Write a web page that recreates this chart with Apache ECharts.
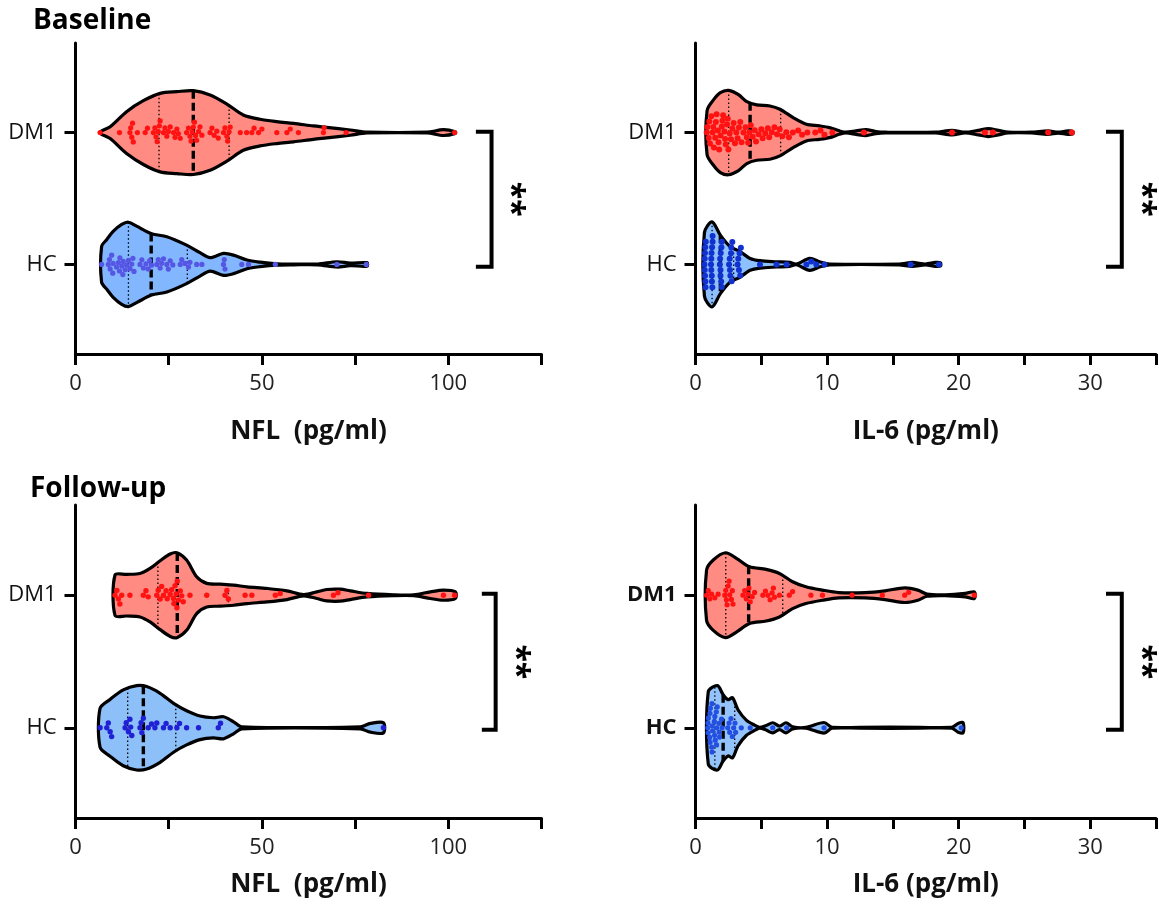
<!DOCTYPE html>
<html>
<head>
<meta charset="utf-8">
<script src="https://cdn.jsdelivr.net/npm/echarts@6/dist/echarts.min.js"></script>
<style>
  html, body { margin: 0; padding: 0; background: #fff; }
  #main { width: 1159px; height: 905px; }
</style>
</head>
<body>
<div id="main"></div>
<script>
var FONT = '"Open Sans", "Noto Sans", sans-serif';

// categories (y = 1 for HC, y = 2 for DM1)
var groups = ['HC', 'DM1'];
var nflTicks = [0, 50, 100];
var il6Ticks = [0, 10, 20, 30];

var nflBaseDM1 = [6.6, 11.8, 14.6, 14.8, 15.1, 15.3, 15.5, 16.6, 18.7, 19.3, 20.9, 21.3, 21.6, 21.9, 22.2, 22.5, 22.7,
  23.6, 24.0, 24.5, 24.9, 25.4, 26.3, 26.7, 27.2, 27.6, 28.1, 29.8, 30.3, 30.7, 31.0, 31.3, 31.6, 31.9, 32.2, 32.5,
  33.0, 33.4, 33.9, 36.1, 36.6, 37.2, 37.9, 38.3, 39.7, 40.1, 40.6, 40.8, 41.2, 41.5, 44.2, 45.9, 47.3, 47.9, 49.1,
  50.0, 54.0, 56.7, 57.6, 59.8, 66.5, 66.7, 72.6, 101.7];
var nflBaseHC = [7.0, 8.8, 9.1, 9.3, 9.7, 10.0, 10.1, 11.0, 11.5, 11.8, 11.9, 12.4, 12.7, 12.8, 13.3, 13.7, 14.2, 14.6,
  15.1, 15.4, 15.7, 17.3, 17.8, 18.2, 18.9, 19.5, 19.9, 20.4, 21.8, 22.2, 22.7, 23.1, 23.6, 24.5, 24.9, 25.4, 26.1,
  28.1, 28.5, 29.4, 30.3, 30.7, 32.5, 33.9, 39.7, 39.9, 40.1, 44.6, 46.4, 53.6, 70.1, 78.0];
var il6BaseDM1 = [0.85, 0.9, 1.0, 1.05, 1.1, 1.2, 1.3, 1.35, 1.4, 1.5, 1.55, 1.6, 1.7, 1.75, 1.8, 1.9, 2.0, 2.05, 2.1,
  2.2, 2.25, 2.3, 2.4, 2.45, 2.5, 2.6, 2.7, 2.8, 2.9, 3.0, 3.1, 3.2, 3.3, 3.4, 3.5, 3.65, 3.8, 3.9, 4.0, 4.1, 4.2,
  4.35, 4.5, 4.6, 4.8, 5.0, 5.1, 5.3, 5.5, 5.6, 5.8, 6.0, 6.2, 6.4, 6.6, 6.9, 7.1, 7.4, 7.8, 8.1, 8.5, 9.1, 9.5,
  9.8, 10.4, 12.8, 19.5, 22.0, 22.6, 26.8, 28.6];
var il6BaseHC = [0.68, 0.7, 0.7, 0.72, 0.72, 0.74, 0.75, 0.76, 0.78, 1.18, 1.2, 1.2, 1.22, 1.24, 1.25, 1.26, 1.28,
  1.3, 1.3, 1.85, 1.87, 1.9, 1.9, 1.92, 1.95, 1.97, 2.0, 2.0, 2.55, 2.6, 2.62, 2.65, 2.7, 2.72, 2.75, 2.8, 3.2,
  3.25, 3.3, 3.35, 3.4, 3.45, 4.9, 6.16, 6.92, 8.43, 8.8, 9.18, 9.8, 16.35, 18.5];
var nflFuDM1 = [10.6, 11.1, 11.5, 11.9, 12.4, 14.6, 18.2, 18.9, 19.5, 21.8, 22.2, 22.7, 23.1, 23.6, 24.3, 24.6, 25.4,
  25.8, 26.3, 26.4, 26.7, 27.0, 27.2, 27.3, 27.6, 28.1, 28.5, 28.9, 30.7, 35.2, 40.1, 40.6, 41.0, 45.5, 47.3, 53.6,
  54.9, 69.2, 70.4, 78.6, 98.7, 101.7];
var nflFuHC = [6.6, 8.4, 8.8, 9.3, 9.7, 13.3, 13.6, 14.2, 14.6, 14.8, 15.1, 17.3, 17.6, 17.8, 18.2, 19.5, 20.4, 21.3,
  21.8, 23.6, 24.3, 25.4, 27.2, 27.9, 29.8, 33.0, 38.3, 38.9, 82.6];
var il6FuDM1 = [0.84, 0.97, 1.09, 1.22, 1.47, 1.72, 2.23, 2.30, 2.35, 2.40, 2.48, 2.55, 2.60, 2.73, 2.80, 2.85, 3.61,
  3.74, 3.86, 3.99, 4.06, 4.16, 4.31, 4.49, 5.12, 5.32, 5.50, 5.67, 5.82, 5.92, 6.00, 6.38, 7.13, 7.38, 8.77, 9.65,
  11.9, 14.2, 15.9, 16.2, 21.2];
var il6FuHC = [0.93, 0.95, 0.96, 0.98, 1.08, 1.1, 1.11, 1.13, 1.23, 1.25, 1.26, 1.27, 1.3, 1.43, 1.45, 1.47, 1.5,
  1.58, 1.6, 1.62, 1.65, 1.78, 1.8, 1.83, 1.98, 2.02, 2.45, 2.55, 2.6, 2.7, 2.8, 2.9, 3.0, 3.05, 3.48, 4.16, 5.87,
  6.93, 9.77, 20.2];

// ---- violin outlines: [value, half width in category units] ----
var nflBaseDM1Shape = [[6.4, 0], [9.3, 0.045], [13.7, 0.159], [18.2, 0.242], [22.7, 0.298], [27.2, 0.311],
  [31.6, 0.318], [36.1, 0.286], [40.6, 0.217], [45.0, 0.134], [49.5, 0.101], [54.0, 0.083], [58.5, 0.070],
  [63.8, 0.051], [67.4, 0.040], [73.7, 0.020], [78.2, 0.003], [94.3, 0.003], [98.7, 0.022], [101.9, 0.006]];
var nflBaseHCShape = [[7.0, 0.136], [8.4, 0.189], [10.1, 0.250], [12.4, 0.303], [14.2, 0.320], [16.4, 0.290],
  [20.4, 0.233], [24.5, 0.210], [29.8, 0.146], [33.4, 0.089], [36.1, 0.051], [39.7, 0.083], [42.4, 0.070],
  [46.0, 0.033], [49.5, 0.017], [54.0, 0.005], [58.5, 0.003], [65.0, 0.003], [70.1, 0.020], [73.7, 0.010],
  [78.2, 0.013]];
var il6BaseDM1Shape = [[0.88, 0.167], [1.38, 0.250], [1.89, 0.303], [2.52, 0.320], [3.27, 0.288], [3.90, 0.235],
  [4.65, 0.210], [5.66, 0.202], [6.42, 0.177], [7.42, 0.114], [8.43, 0.063], [9.43, 0.051], [10.19, 0.038],
  [10.94, 0.013], [11.45, 0.003], [12.2, 0.013], [12.96, 0.023], [13.71, 0.008], [14.47, 0.003], [18.24, 0.003],
  [19.5, 0.017], [20.5, 0.003], [21.5, 0.017], [22.26, 0.030], [23.02, 0.017], [23.77, 0.003], [25.53, 0.003],
  [26.79, 0.013], [27.55, 0.004], [28.3, 0.013], [28.68, 0.010]];
var il6BaseHCShape = [[0.68, 0.242], [1.26, 0.323], [1.89, 0.222], [2.64, 0.134], [3.40, 0.096], [4.15, 0.045],
  [4.91, 0.028], [6.16, 0.020], [7.17, 0.015], [7.67, 0.003], [8.68, 0.045], [9.43, 0.020], [10.19, 0.003],
  [15.47, 0.003], [16.48, 0.015], [17.48, 0.003], [18.24, 0.015], [18.62, 0.012]];
var nflFuDM1Shape = [[10.6, 0.152], [13.7, 0.157], [17.3, 0.164], [20.0, 0.202], [22.7, 0.260], [25.4, 0.311],
  [27.2, 0.320], [29.8, 0.265], [32.5, 0.139], [35.2, 0.089], [38.8, 0.083], [42.4, 0.076], [46.0, 0.063],
  [51.3, 0.051], [56.7, 0.033], [61.2, 0.005], [64.7, 0.025], [67.4, 0.043], [71.0, 0.045], [73.7, 0.033],
  [78.2, 0.013], [85.3, 0.003], [90.7, 0.003], [95.2, 0.025], [98.7, 0.038], [101.9, 0.025]];
var nflFuHCShape = [[6.58, 0.146], [9.26, 0.214], [12.8, 0.286], [16.4, 0.318], [19.1, 0.311], [22.7, 0.260],
  [26.3, 0.184], [29.8, 0.129], [33.4, 0.089], [37.0, 0.076], [39.7, 0.083], [42.4, 0.045], [44.6, 0.008],
  [76.4, 0.008], [79.1, 0.033], [82.6, 0.038]];
var il6FuDM1Shape = [[0.84, 0.189], [1.35, 0.265], [2.28, 0.320], [3.11, 0.278], [4.11, 0.214], [5.37, 0.195],
  [6.38, 0.164], [7.38, 0.101], [8.39, 0.063], [9.65, 0.038], [10.9, 0.020], [12.9, 0.020], [14.4, 0.033],
  [15.9, 0.055], [16.9, 0.038], [17.6, 0.008], [19.0, 0.003], [20.5, 0.013], [21.2, 0.025]];
var il6FuHCShape = [[0.97, 0.273], [1.67, 0.318], [2.10, 0.250], [2.48, 0.212], [2.81, 0.227], [3.23, 0.136],
  [3.86, 0.058], [4.49, 0.020], [4.87, 0.003], [5.37, 0.017], [5.87, 0.038], [6.38, 0.013], [6.88, 0.038],
  [7.38, 0.008], [8.39, 0.003], [9.77, 0.040], [10.4, 0.003], [19.46, 0.003], [19.96, 0.033], [20.34, 0.038]];

// ---- quartiles [Q1, median, Q3] ----
var nflBaseDM1Stats = [22.4, 31.6, 41.2];
var nflBaseHCStats = [14.2, 20.3, 30.0];
var il6BaseDM1Stats = [2.52, 4.15, 6.47];
var il6BaseHCStats = [1.26, 1.89, 2.9];
var nflFuDM1Stats = [22.1, 27.3, 41.0];
var nflFuHCStats = [14.0, 18.2, 26.9];
var il6FuDM1Stats = [2.30, 4.04, 6.63];
var il6FuHCStats = [1.47, 2.10, 2.98];

// ---- layout ----
var Y_MIN = 0.32, Y_MAX = 2.68;
var panels = [
  { grid: { left: 75.5, top: 43, width: 466, height: 311 }, xMax: 125, step: 25, ticks: nflTicks,
    name: 'NFL  (pg/ml)', nameGap: 65, boldY: false,
    dm1: [nflBaseDM1, nflBaseDM1Shape, nflBaseDM1Stats], hc: [nflBaseHC, nflBaseHCShape, nflBaseHCStats],
    hcFill: '#82B7FF', hcDot: '#5656E4', dot: 5.2, bracket: [111.6, 107.4, 116.5, 2.007, 0.983] },
  { grid: { left: 695.5, top: 43, width: 466, height: 311 }, xMax: 35, step: 5, ticks: il6Ticks,
    name: 'IL-6 (pg/ml)', nameGap: 65, boldY: false,
    dm1: [il6BaseDM1, il6BaseDM1Shape, il6BaseDM1Stats], hc: [il6BaseHC, il6BaseHCShape, il6BaseHCStats],
    hcFill: '#8DC0FF', hcDot: '#1232CF', dot: 6, bracket: [32.4, 31.2, 33.85, 2.007, 0.983] },
  { grid: { left: 75.5, top: 505, width: 466, height: 313 }, xMax: 125, step: 25, ticks: nflTicks,
    name: 'NFL  (pg/ml)', nameGap: 54, boldY: false,
    dm1: [nflFuDM1, nflFuDM1Shape, nflFuDM1Stats], hc: [nflFuHC, nflFuHCShape, nflFuHCStats],
    hcFill: '#8DBFF8', hcDot: '#2020D4', dot: 5.4, bracket: [112.7, 109.0, 117.8, 2.01, 0.985] },
  { grid: { left: 695.5, top: 505, width: 466, height: 313 }, xMax: 35, step: 5, ticks: il6Ticks,
    name: 'IL-6 (pg/ml)', nameGap: 54, boldY: true,
    dm1: [il6FuDM1, il6FuDM1Shape, il6FuDM1Stats], hc: [il6FuHC, il6FuHCShape, il6FuHCStats],
    hcFill: '#93C3FA', hcDot: '#2450E2', dot: 5.2, bracket: [32.4, 31.2, 33.9, 2.01, 0.985] }
];

function interpHw(shape, x) {
  if (x <= shape[0][0]) return shape[0][1];
  for (var i = 1; i < shape.length; i++) {
    if (x <= shape[i][0]) {
      var a = shape[i - 1], b = shape[i];
      return a[1] + (b[1] - a[1]) * (x - a[0]) / (b[0] - a[0]);
    }
  }
  return shape[shape.length - 1][1];
}

// simple beeswarm in pixel space, returns [value, y]
function swarm(values, center, pxX, pxY, d) {
  var placed = [];
  return values.slice().sort(function (a, b) { return a - b; }).map(function (v) {
    var x = v * pxX;
    var cands = [0];
    placed.forEach(function (p) {
      var dx = Math.abs(p[0] - x);
      if (dx < d) {
        var h = Math.sqrt(d * d - dx * dx);
        cands.push(p[1] + h, p[1] - h);
      }
    });
    cands.sort(function (a, b) { return Math.abs(a) - Math.abs(b); });
    var y = 0;
    for (var i = 0; i < cands.length; i++) {
      var c = cands[i];
      var ok = placed.every(function (p) {
        return (p[0] - x) * (p[0] - x) + (p[1] - c) * (p[1] - c) >= d * d - 0.01;
      });
      if (ok) { y = c; break; }
    }
    placed.push([x, y]);
    return [v, center + y / pxY];
  });
}

function violin(gi, shape, center, stats, fill) {
  return {
    type: 'custom', xAxisIndex: gi, yAxisIndex: gi, z: 2, silent: true,
    data: [[stats[1], center]],
    renderItem: function (params, api) {
      var top = [], bottom = [];
      shape.forEach(function (p) {
        top.push(api.coord([p[0], center + p[1]]));
        if (p[1] > 0) bottom.unshift(api.coord([p[0], center - p[1]]));
      });
      var kids = [{
        type: 'polygon', shape: { points: top.concat(bottom), smooth: 0.3 },
        style: { fill: fill, stroke: '#000', lineWidth: 3.2, lineJoin: 'round' }
      }];
      stats.forEach(function (s, i) {
        var hw = interpHw(shape, s);
        var a = api.coord([s, center + hw]), b = api.coord([s, center - hw]);
        kids.push({
          type: 'line', shape: { x1: a[0], y1: a[1], x2: b[0], y2: b[1] },
          style: i === 1 ? { stroke: '#000', lineWidth: 3.4, lineDash: [8, 4] }
                         : { stroke: '#000', lineWidth: 1.3, lineDash: [1.5, 2.5] }
        });
      });
      return { type: 'group', children: kids };
    }
  };
}

function dots(gi, p, values, center, color) {
  var pxX = p.grid.width / p.xMax;
  var pxY = p.grid.height / (Y_MAX - Y_MIN);
  return {
    type: 'scatter', xAxisIndex: gi, yAxisIndex: gi, z: 3, silent: true,
    symbolSize: p.dot, itemStyle: { color: color, opacity: 1 },
    data: swarm(values, center, pxX, pxY, p.dot * 0.95)
  };
}

function bracket(gi, b) {
  return {
    type: 'custom', xAxisIndex: gi, yAxisIndex: gi, z: 4, silent: true,
    data: [[b[0], b[3]]],
    renderItem: function (params, api) {
      var p1 = api.coord([b[1], b[3]]), p2 = api.coord([b[0], b[3]]);
      var p3 = api.coord([b[0], b[4]]), p4 = api.coord([b[1], b[4]]);
      var s = api.coord([b[2], (b[3] + b[4]) / 2]);
      return {
        type: 'group', children: [
          { type: 'polyline', shape: { points: [p1, p2, p3, p4] },
            style: { stroke: '#000', lineWidth: 4, fill: 'none', lineJoin: 'miter' } },
          { type: 'text', x: s[0], y: s[1], rotation: -Math.PI / 2,
            style: { text: '**', font: 'bold 32px ' + FONT, fill: '#000', align: 'center', verticalAlign: 'middle' } }
        ]
      };
    }
  };
}

var grids = [], xAxes = [], yAxes = [], series = [];
panels.forEach(function (p, gi) {
  grids.push(p.grid);
  xAxes.push({
    type: 'value', gridIndex: gi, min: 0, max: p.xMax, interval: p.step,
    axisLine: { show: true, onZero: false, lineStyle: { color: '#000', width: 3 } },
    axisTick: { show: true, length: 11, lineStyle: { color: '#000', width: 3 } },
    splitLine: { show: false },
    axisLabel: {
      margin: 19, fontSize: 22, color: '#222', fontFamily: FONT,
      formatter: function (v) { return p.ticks.indexOf(v) >= 0 ? String(v) : ''; }
    },
    name: p.name, nameLocation: 'middle', nameGap: p.nameGap,
    nameTextStyle: { fontSize: 26, fontWeight: 'bold', color: '#111', fontFamily: FONT }
  });
  yAxes.push({
    type: 'value', gridIndex: gi, min: Y_MIN, max: Y_MAX,
    axisLine: { show: true, onZero: false, lineStyle: { color: '#000', width: 3 } },
    axisTick: { show: true, length: 11, customValues: [1, 2], lineStyle: { color: '#000', width: 3 } },
    splitLine: { show: false },
    axisLabel: {
      customValues: [1, 2], margin: 19, fontSize: 22, color: '#111', fontFamily: FONT,
      fontWeight: p.boldY ? 'bold' : 'normal',
      formatter: function (v) { return groups[Math.round(v) - 1] || ''; }
    }
  });
  series.push(violin(gi, p.dm1[1], 2, p.dm1[2], '#FF8B82'));
  series.push(violin(gi, p.hc[1], 1, p.hc[2], p.hcFill));
  series.push(dots(gi, p, p.dm1[0], 2, '#FF1212'));
  series.push(dots(gi, p, p.hc[0], 1, p.hcDot));
  series.push(bracket(gi, p.bracket));
});

var chart = echarts.init(document.getElementById('main'), null, { renderer: 'canvas' });
chart.setOption({
  backgroundColor: '#fff',
  animation: false,
  grid: grids,
  xAxis: xAxes,
  yAxis: yAxes,
  series: series,
  graphic: [
    { type: 'text', left: 33, top: 7, style: { text: 'Baseline', font: 'bold 28px ' + FONT, fill: '#000' } },
    { type: 'text', left: 30, top: 475, style: { text: 'Follow-up', font: 'bold 28px ' + FONT, fill: '#000' } }
  ]
});
</script>
</body>
</html>
